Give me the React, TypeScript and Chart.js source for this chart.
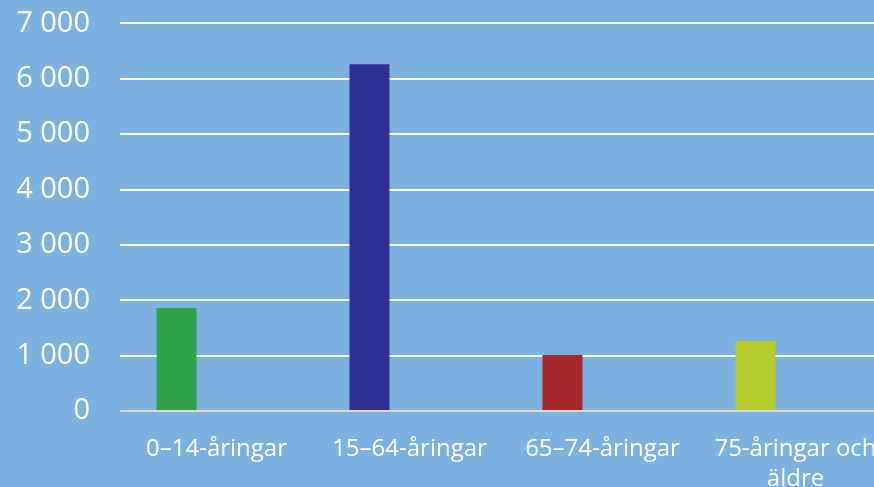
import React, { useEffect, useRef } from "react";
import { Chart, registerables } from "chart.js";

Chart.register(...registerables);

const categories: (string | string[])[] = [
  "0–14-åringar",
  "15–64-åringar",
  "65–74-åringar",
  ["75-åringar och", "äldre"],
];
const values = [1860, 6260, 1010, 1265];
const barColors = ["#31A24C", "#2E3092", "#A6272C", "#B5CC2D"];
const yMax = 7000;
const yStep = 1000;

const BG = "#7DB1E0";

export default function App() {
  const ref = useRef<HTMLCanvasElement>(null);
  useEffect(() => {
    if (!ref.current) return;
    const chart = new Chart(ref.current, {
      type: "bar",
      data: {
        labels: categories,
        datasets: [
          { data: values, backgroundColor: barColors, borderWidth: 0 },
          { data: values.map(() => null), backgroundColor: "transparent" },
          { data: values.map(() => null), backgroundColor: "transparent" },
        ],
      },
      options: {
        responsive: false,
        animation: false,
        maintainAspectRatio: false,
        layout: { padding: { top: 0, right: 0, left: 0, bottom: 6 } },
        datasets: { bar: { categoryPercentage: 0.622, barPercentage: 1 } },
        plugins: { legend: { display: false }, tooltip: { enabled: false } },
        scales: {
          x: {
            grid: { display: false },
            border: { display: false },
            ticks: {
              color: "#ffffff",
              font: { family: "Open Sans", size: 24, lineHeight: 1.25 },
              padding: 15,
              maxRotation: 0,
              autoSkip: false,
            },
          },
          y: {
            min: 0,
            max: yMax,
            afterFit: (s: any) => {
              s.width = 120;
            },
            border: { display: false },
            grid: {
              color: (c: any) => (c.tick && c.tick.value === 0 ? "#D9D9D9" : "#ffffff"),
              lineWidth: 2,
              drawTicks: false,
            },
            ticks: {
              stepSize: yStep,
              color: "#ffffff",
              font: { family: "Open Sans", size: 29 },
              padding: 30,
              callback: (v: any) => String(v).replace(/\B(?=(\d{3})+(?!\d))/g, " "),
            },
          },
        },
      },
    });
    return () => chart.destroy();
  }, []);
  return (
    <div
      style={{
        position: "fixed",
        left: 0,
        top: 0,
        width: 874,
        height: 487,
        overflow: "hidden",
        background: BG,
      }}
    >
      <canvas
        ref={ref}
        width={892}
        height={539}
        style={{ display: "block", position: "absolute", left: 0, top: -24 }}
      />
    </div>
  );
}
